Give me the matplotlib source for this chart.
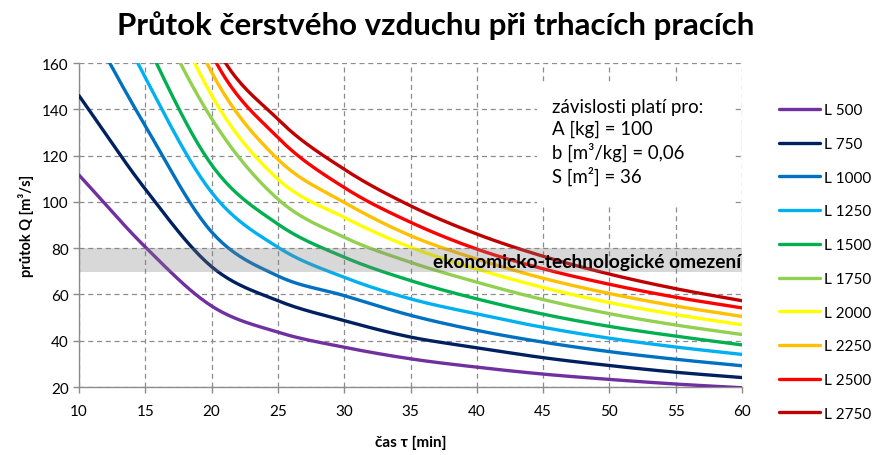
import matplotlib
matplotlib.use("Agg")
import matplotlib.pyplot as plt
from matplotlib.patches import Rectangle
import numpy as np

plt.rcParams["font.family"] = ["Lato", "DejaVu Sans"]

# time after blasting [min]
T = [10, 15, 20, 25, 30, 35, 40, 45, 50, 55, 60]

# fresh-air flow Q [m3/s] for each length L
L500 = [111.6, 80.5, 55.0, 43.7, 37.2, 32.2, 28.6, 25.6, 23.3, 21.3, 19.7]
L750 = [145.9, 105.5, 72.0, 57.3, 48.7, 41.6, 37.0, 32.7, 29.3, 26.4, 24.1]
L1000 = [184, 132.8, 87.0, 68.0, 59.5, 51.0, 44.5, 39.4, 35.3, 32.0, 29.2]
L1250 = [213, 153.7, 104.1, 80.4, 67.4, 58.1, 51.6, 45.8, 41.1, 37.3, 34.1]
L1500 = [235, 170, 116, 90.4, 76.1, 66.0, 58.1, 51.5, 46.2, 42.0, 38.2]
L1750 = [266, 192, 136, 101.2, 84.7, 73.9, 65.3, 57.8, 51.7, 46.8, 42.7]
L2000 = [291, 210, 146, 109.8, 93.3, 80.4, 71.0, 63.0, 56.5, 51.3, 46.9]
L2250 = [313, 226, 156, 118.4, 99.8, 85.4, 75.3, 67.0, 60.4, 55.0, 50.5]
L2500 = [336, 243, 164, 127.8, 106.2, 91.2, 79.6, 71.1, 64.4, 58.8, 54.2]
L2750 = [356, 257, 171, 135.7, 114.1, 98.3, 86.1, 76.5, 68.8, 62.5, 57.3]

LABELS = ["L 500", "L 750", "L 1000", "L 1250", "L 1500",
          "L 1750", "L 2000", "L 2250", "L 2500", "L 2750"]
VALUES = [L500, L750, L1000, L1250, L1500, L1750, L2000, L2250, L2500, L2750]
COLORS = ["#7030a0", "#002060", "#0070c0", "#00b0f0", "#00b050",
          "#92d050", "#ffff00", "#ffc000", "#ff0000", "#c00000"]

BAND = (69.5, 80)   # economic / technological limit


def smooth(x, y, n=24):
    """Cubic Hermite through the points with central-difference tangents
    (same shape as a spreadsheet 'smoothed line')."""
    x = np.asarray(x, float)
    y = np.asarray(y, float)
    m = np.gradient(y, x)
    xs, ys = [], []
    s = np.linspace(0, 1, n, endpoint=False)
    h00 = 2 * s**3 - 3 * s**2 + 1
    h10 = s**3 - 2 * s**2 + s
    h01 = -2 * s**3 + 3 * s**2
    h11 = s**3 - s**2
    for i in range(len(x) - 1):
        h = x[i + 1] - x[i]
        xs.append(x[i] + s * h)
        ys.append(h00 * y[i] + h10 * h * m[i] + h01 * y[i + 1] + h11 * h * m[i + 1])
    xs.append([x[-1]])
    ys.append([y[-1]])
    return np.concatenate(xs), np.concatenate(ys)


fig = plt.figure(figsize=(8.72, 4.56), dpi=100)
ax = fig.add_axes([0.0906, 0.149, 0.7604, 0.7106])

for lab, vals, col in zip(LABELS, VALUES, COLORS):
    xs, ys = smooth(T, vals)
    ax.plot(xs, ys, color=col, lw=2.4, label=lab, solid_capstyle="round", zorder=3)

ax.axhspan(*BAND, color="#808080", alpha=0.3, lw=0, zorder=4)
ax.text(59.95, 74.3, "ekonomicko-technologické omezení", ha="right", va="center",
        fontsize=13.8, fontweight="bold", zorder=6)

# white panel behind the parameter note
ax.add_patch(Rectangle((44.5, 99.0), 14.8, 52.6, fc="white", ec="none", zorder=2))
ax.text(45.7, 144.8,
        "závislosti platí pro:\nA [kg] = 100\nb [m³/kg] = 0,06\nS [m²] = 36",
        ha="left", va="top", fontsize=13.4, linespacing=1.3, zorder=5)

ax.set_xlim(10, 60)
ax.set_ylim(20, 160)
ax.set_xticks(np.arange(10, 61, 5))
ax.set_yticks(np.arange(20, 161, 20))
ax.grid(True, color="#8c8c8c", ls=(0, (4, 3)), lw=0.9, zorder=1)
ax.set_axisbelow(True)
for side in ("top", "right"):
    ax.spines[side].set_visible(False)
for side in ("left", "bottom"):
    ax.spines[side].set_color("#8c8c8c")
    ax.spines[side].set_linewidth(1.0)
ax.tick_params(colors="#8c8c8c", labelcolor="black", labelsize=11, length=4, width=1)
ax.tick_params(axis="x", pad=8)

ax.set_ylabel("průtok Q [m³/s]", fontsize=10.5, fontweight="bold", labelpad=6)
ax.set_xlabel("čas τ [min]", fontsize=11, fontweight="bold", labelpad=12)

fig.suptitle("Průtok čerstvého vzduchu při trhacích pracích",
             fontsize=22.5, fontweight="bold", y=0.975)

ax.legend(loc="upper left", bbox_to_anchor=(1.035, 0.918), frameon=False,
          fontsize=11, handlelength=2.65, handletextpad=0.3, labelspacing=1.29)

fig.savefig("out.png", dpi=100)
